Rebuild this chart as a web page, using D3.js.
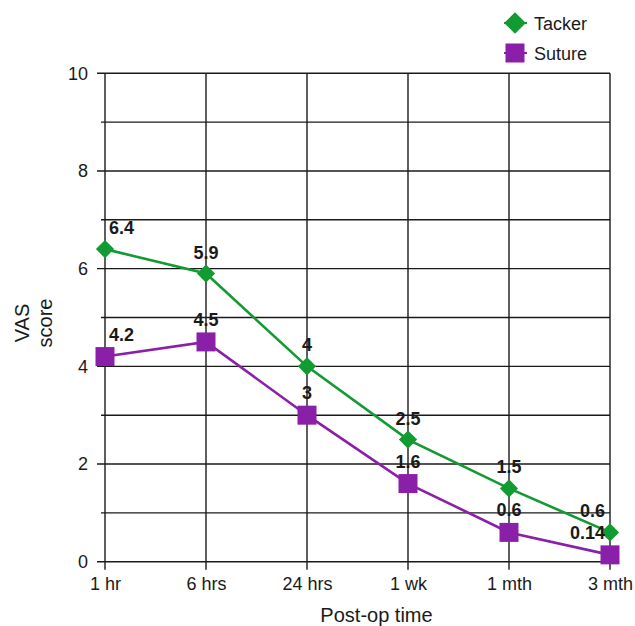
<!DOCTYPE html>
<html>
<head>
<meta charset="utf-8">
<script src="https://cdn.jsdelivr.net/npm/d3@7"></script>
<style>
  html, body { margin: 0; padding: 0; background: #fff; }
  svg { display: block; font-family: "Liberation Sans", Arial, sans-serif; }
</style>
</head>
<body>
<svg id="chart" width="635" height="626"></svg>
<script>
// Post-operative pain (VAS) by time point
const categories = ["1 hr", "6 hrs", "24 hrs", "1 wk", "1 mth", "3 mth"];
const tackerValues = [6.4, 5.9, 4, 2.5, 1.5, 0.6];
const sutureValues = [4.2, 4.5, 3, 1.6, 0.6, 0.14];
const tackerLabels = ["6.4", "5.9", "4", "2.5", "1.5", "0.6"];
const sutureLabels = ["4.2", "4.5", "3", "1.6", "0.6", "0.14"];
const yTickValues = [0, 2, 4, 6, 8, 10];
const yGridValues = [0, 1, 2, 3, 4, 5, 6, 7, 8, 9, 10];

const GREEN = "#129a33";
const PURPLE = "#8a1fa8";
const INK = "#1a1a1a";

const svg = d3.select("#chart");
const plotLeft = 105, plotRight = 610, plotTop = 73.3, plotBottom = 561.7;

const x = d3.scalePoint().domain(categories).range([plotLeft, plotRight]).padding(0);
const y = d3.scaleLinear().domain([0, 10]).range([plotBottom, plotTop]);

// Horizontal grid lines at every unit, with short minor ticks
svg.append("g").selectAll("line").data(yGridValues).join("line")
  .attr("x1", d => plotLeft - (d % 2 === 0 ? 8 : 4))
  .attr("x2", plotRight)
  .attr("y1", d => y(d)).attr("y2", d => y(d))
  .attr("stroke", INK).attr("stroke-width", 1.4);

// Vertical grid lines at each time point, extending into the x ticks
svg.append("g").selectAll("line").data(categories).join("line")
  .attr("x1", d => x(d)).attr("x2", d => x(d))
  .attr("y1", plotTop).attr("y2", plotBottom + 8)
  .attr("stroke", INK).attr("stroke-width", 1.4);

// Y axis (labels only; lines drawn above)
const yAxis = svg.append("g")
  .attr("transform", `translate(${plotLeft},0)`)
  .call(d3.axisLeft(y).tickValues(yTickValues).tickSize(8).tickPadding(9).tickFormat(d3.format("d")));
yAxis.select(".domain").remove();
yAxis.selectAll(".tick line").remove();
yAxis.selectAll("text").attr("font-size", 18).attr("fill", INK)
  .attr("font-family", "'Liberation Sans', Arial, sans-serif");

// X axis labels
const xAxis = svg.append("g")
  .attr("transform", `translate(0,${plotBottom})`)
  .call(d3.axisBottom(x).tickSize(8).tickPadding(8));
xAxis.select(".domain").remove();
xAxis.selectAll(".tick line").remove();
xAxis.selectAll("text").attr("font-size", 18).attr("fill", INK)
  .attr("font-family", "'Liberation Sans', Arial, sans-serif");

// Axis titles
svg.append("text")
  .attr("x", (plotLeft + plotRight) / 2 + 19).attr("y", 622)
  .attr("text-anchor", "middle").attr("font-size", 20).attr("fill", INK)
  .text("Post-op time");
const yTitle = svg.append("text")
  .attr("transform", "translate(0,323) rotate(-90)")
  .attr("text-anchor", "middle").attr("font-size", 20).attr("fill", INK);
yTitle.append("tspan").attr("x", 0).attr("y", 29).text("VAS");
yTitle.append("tspan").attr("x", 0).attr("y", 52).text("score");

const line = d3.line().x((d, i) => x(categories[i])).y(d => y(d));

// Markers: squares, or squares turned 45° for diamonds
function drawSeries(values, color, size, rotate) {
  const g = svg.append("g");
  g.append("path").datum(values)
    .attr("d", line).attr("fill", "none")
    .attr("stroke", color).attr("stroke-width", 2.6);
  g.selectAll("path.mark").data(values).join("path")
    .attr("class", "mark")
    .attr("transform", (d, i) => `translate(${x(categories[i])},${y(d)}) rotate(${rotate})`)
    .attr("d", d3.symbol().type(d3.symbolSquare).size(size))
    .attr("fill", color);
  return g;
}

drawSeries(sutureValues, PURPLE, 361, 0);
drawSeries(tackerValues, GREEN, 165, 45);

// Value labels
function labelPos(i, n) {
  if (i === 0) return { dx: 4, anchor: "start" };
  if (i === n - 1) return { dx: -5, anchor: "end" };
  return { dx: 0, anchor: "middle" };
}
function drawLabels(values, labels, offset) {
  svg.append("g").selectAll("text").data(values).join("text")
    .attr("x", (d, i) => x(categories[i]) + labelPos(i, values.length).dx)
    .attr("y", (d, i) => y(d) - offset)
    .attr("text-anchor", (d, i) => labelPos(i, values.length).anchor)
    .attr("font-size", 18).attr("font-weight", "bold").attr("fill", INK)
    .text((d, i) => labels[i]);
}
drawLabels(tackerValues, tackerLabels, 15);
drawLabels(sutureValues, sutureLabels, 16);

// Legend
const legend = [
  { name: "Tacker", color: GREEN, size: 235, rotate: 45, y: 23 },
  { name: "Suture", color: PURPLE, size: 361, rotate: 0, y: 53 }
];
const lg = svg.append("g");
legend.forEach(item => {
  lg.append("line").attr("x1", 504).attr("x2", 527)
    .attr("y1", item.y).attr("y2", item.y)
    .attr("stroke", item.color).attr("stroke-width", 2);
  lg.append("path")
    .attr("transform", `translate(515,${item.y}) rotate(${item.rotate})`)
    .attr("d", d3.symbol().type(d3.symbolSquare).size(item.size))
    .attr("fill", item.color);
  lg.append("text").attr("x", 534).attr("y", item.y + 7)
    .attr("font-size", 18).attr("fill", INK).text(item.name);
});
</script>
</body>
</html>
